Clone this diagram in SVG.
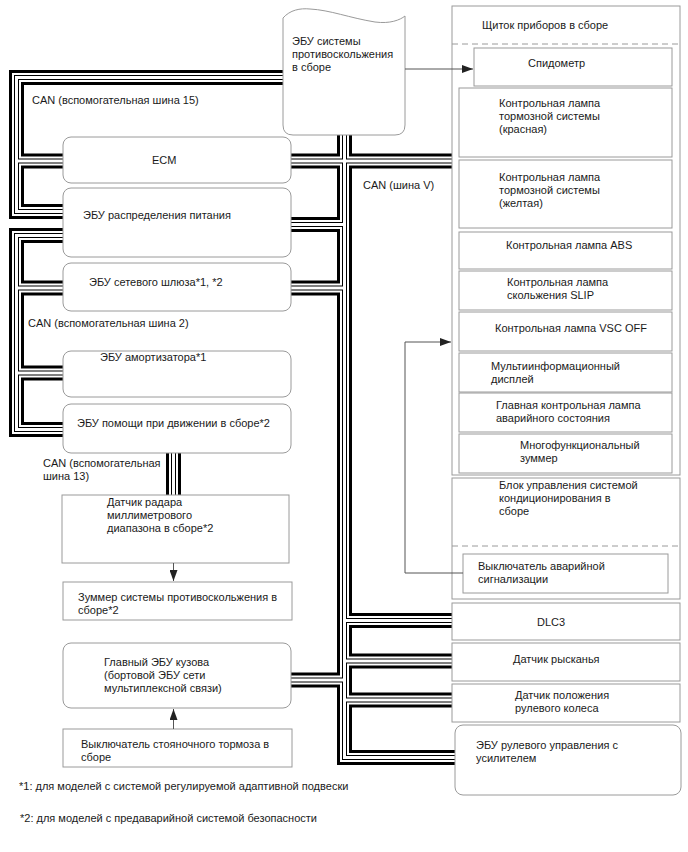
<svg xmlns="http://www.w3.org/2000/svg" width="688" height="852" viewBox="0 0 688 852">
<style>
text{font-family:"Liberation Sans",Arial,sans-serif;font-size:11px;fill:#1a1a1a}
.box{fill:#fff;stroke:#9a9a9a;stroke-width:1}
.dash{stroke:#9a9a9a;stroke-width:1;stroke-dasharray:6 4;fill:none}
.arr{fill:none;stroke:#555;stroke-width:1}
</style>
<defs>
<marker id="ah" markerUnits="userSpaceOnUse" markerWidth="12" markerHeight="8" refX="11" refY="4" orient="auto">
<path d="M0,0 L11,4 L0,8 Z" fill="#222"/>
</marker>
<g id="buses" fill="none" stroke-linejoin="miter" stroke-linecap="butt">
<path d="M290,77.5 H16.5 V211.5 H72"/>
<path d="M16.5,161 H72"/>
<path d="M72,235.5 H16.5 V429.5 H72"/>
<path d="M16.5,288 H72"/>
<path d="M16.5,373 H72"/>
<path d="M173.5,445 V502"/>
<path d="M344.5,128 V757.5 H462"/>
<path d="M284,161 H462"/>
<path d="M284,224.5 H344.5"/>
<path d="M284,288 H344.5"/>
<path d="M284,680 H344.5"/>
<path d="M344.5,620.5 H462"/>
<path d="M344.5,661 H462"/>
<path d="M344.5,700 H462"/>
</g>
</defs>
<rect width="688" height="852" fill="#fff"/>
<g id="connectors">
<use href="#buses" stroke="#000" stroke-width="15"/>
<use href="#buses" stroke="#fff" stroke-width="9"/>
<use href="#buses" stroke="#000" stroke-width="5"/>
<use href="#buses" stroke="#fff" stroke-width="3"/>
</g>
<g id="labels">
<text x="32" y="104">CAN (вспомогательная шина 15)</text>
<text x="28" y="327">CAN (вспомогательная шина 2)</text>
<text x="43" y="467">CAN (вспомогательная</text>
<text x="43" y="480">шина 13)</text>
<text x="363" y="189">CAN (шина V)</text>
</g>
<g id="abs-ecu">
<path class="box" d="M283,18 C290,10 300,8 310,9 C330,10 350,18 375,22 C390,24 400,20 405,16 V125 Q405,135 395,135 H293 Q283,135 283,125 Z"/>
<text x="292" y="45">ЭБУ системы</text>
<text x="292" y="58">противоскольжения</text>
<text x="292" y="71">в сборе</text>
</g>
<g id="ecm"><rect class="box" x="63" y="137" width="228" height="46" rx="8"/><text x="152" y="164">ECM</text></g>
<g id="pd-ecu"><rect class="box" x="63" y="188" width="228" height="69" rx="8"/><text x="83" y="219">ЭБУ распределения питания</text></g>
<g id="gateway"><rect class="box" x="63" y="263" width="228" height="48" rx="8"/><text x="89" y="286">ЭБУ сетевого шлюза*1, *2</text></g>
<g id="shock"><rect class="box" x="63" y="351" width="228" height="46" rx="8"/><text x="100" y="361">ЭБУ амортизатора*1</text></g>
<g id="drive-assist"><rect class="box" x="63" y="404" width="228" height="49" rx="8"/><text x="77" y="427">ЭБУ помощи при движении в сборе*2</text></g>
<g id="radar"><rect class="box" x="62" y="495" width="227" height="68"/><text x="107" y="506">Датчик радара</text><text x="107" y="519">миллиметрового</text><text x="107" y="532">диапазона в сборе*2</text></g>
<g id="slip-buzzer"><rect class="box" x="63" y="582" width="229" height="38"/><text x="78" y="601">Зуммер системы противоскольжения в</text><text x="78" y="614">сборе*2</text></g>
<g id="body-ecu"><rect class="box" x="63" y="643" width="228" height="65" rx="8"/><text x="104" y="666">Главный ЭБУ кузова</text><text x="104" y="679">(бортовой ЭБУ сети</text><text x="104" y="692">мультиплексной связи)</text></g>
<g id="parking"><rect class="box" x="63" y="729" width="229" height="38"/><text x="81" y="748">Выключатель стояночного тормоза в</text><text x="81" y="761">сборе</text></g>
<g id="cluster">
<rect class="box" x="452" y="6" width="228" height="469"/>
<line class="dash" x1="452" y1="44" x2="680" y2="44"/>
<text x="482" y="29">Щиток приборов в сборе</text>
</g>
<g id="speedo"><rect class="box" x="474" y="48" width="198" height="38"/><text x="528" y="67">Спидометр</text></g>
<g id="brake-red"><rect class="box" x="459" y="88" width="213" height="69"/><text x="499" y="107">Контрольная лампа</text><text x="499" y="120">тормозной системы</text><text x="499" y="133">(красная)</text></g>
<g id="brake-yellow"><rect class="box" x="459" y="160" width="213" height="68"/><text x="499" y="181">Контрольная лампа</text><text x="499" y="194">тормозной системы</text><text x="499" y="207">(желтая)</text></g>
<g id="abs-lamp"><rect class="box" x="459" y="232" width="213" height="37"/><text x="506" y="249">Контрольная лампа ABS</text></g>
<g id="slip-lamp"><rect class="box" x="459" y="271" width="213" height="39"/><text x="507" y="286">Контрольная лампа</text><text x="507" y="299">скольжения SLIP</text></g>
<g id="vsc-lamp"><rect class="box" x="459" y="312" width="213" height="39"/><text x="495" y="332">Контрольная лампа VSC OFF</text></g>
<g id="multi"><rect class="box" x="459" y="353" width="213" height="39"/><text x="491" y="370">Мультиинформационный</text><text x="491" y="383">дисплей</text></g>
<g id="master-warn"><rect class="box" x="459" y="393" width="213" height="39"/><text x="496" y="409">Главная контрольная лампа</text><text x="496" y="422">аварийного состояния</text></g>
<g id="multi-buzzer"><rect class="box" x="459" y="434" width="213" height="39"/><text x="520" y="449">Многофункциональный</text><text x="520" y="462">зуммер</text></g>
<g id="ac">
<rect class="box" x="452" y="478" width="228" height="121"/>
<line class="dash" x1="452" y1="546" x2="680" y2="546"/>
<text x="499" y="489">Блок управления системой</text><text x="499" y="502">кондиционирования в</text><text x="499" y="515">сборе</text>
</g>
<g id="hazard"><rect class="box" x="463" y="554" width="205" height="39"/><text x="478" y="570">Выключатель аварийной</text><text x="478" y="583">сигнализации</text></g>
<g id="dlc3"><rect class="box" x="452" y="603" width="228" height="37"/><text x="537" y="626">DLC3</text></g>
<g id="yaw"><rect class="box" x="452" y="643" width="228" height="38"/><text x="513" y="663">Датчик рысканья</text></g>
<g id="steer-sensor"><rect class="box" x="452" y="684" width="228" height="38"/><text x="515" y="699">Датчик положения</text><text x="515" y="712">рулевого колеса</text></g>
<g id="eps"><rect class="box" x="455" y="725" width="226" height="70" rx="8"/><text x="476" y="749">ЭБУ рулевого управления с</text><text x="476" y="762">усилителем</text></g>
<g id="arrows">
<path class="arr" d="M405,69 H473" marker-end="url(#ah)"/>
<path class="arr" d="M173.5,563 V581" marker-end="url(#ah)"/>
<path class="arr" d="M173.5,729 V709" marker-end="url(#ah)"/>
<path class="arr" d="M463,573 H405 V342 H451" marker-end="url(#ah)"/>
</g>
<g id="notes">
<text x="19" y="790">*1: для моделей с системой регулируемой адаптивной подвески</text>
<text x="20" y="822">*2: для моделей с предаварийной системой безопасности</text>
</g>
</svg>
